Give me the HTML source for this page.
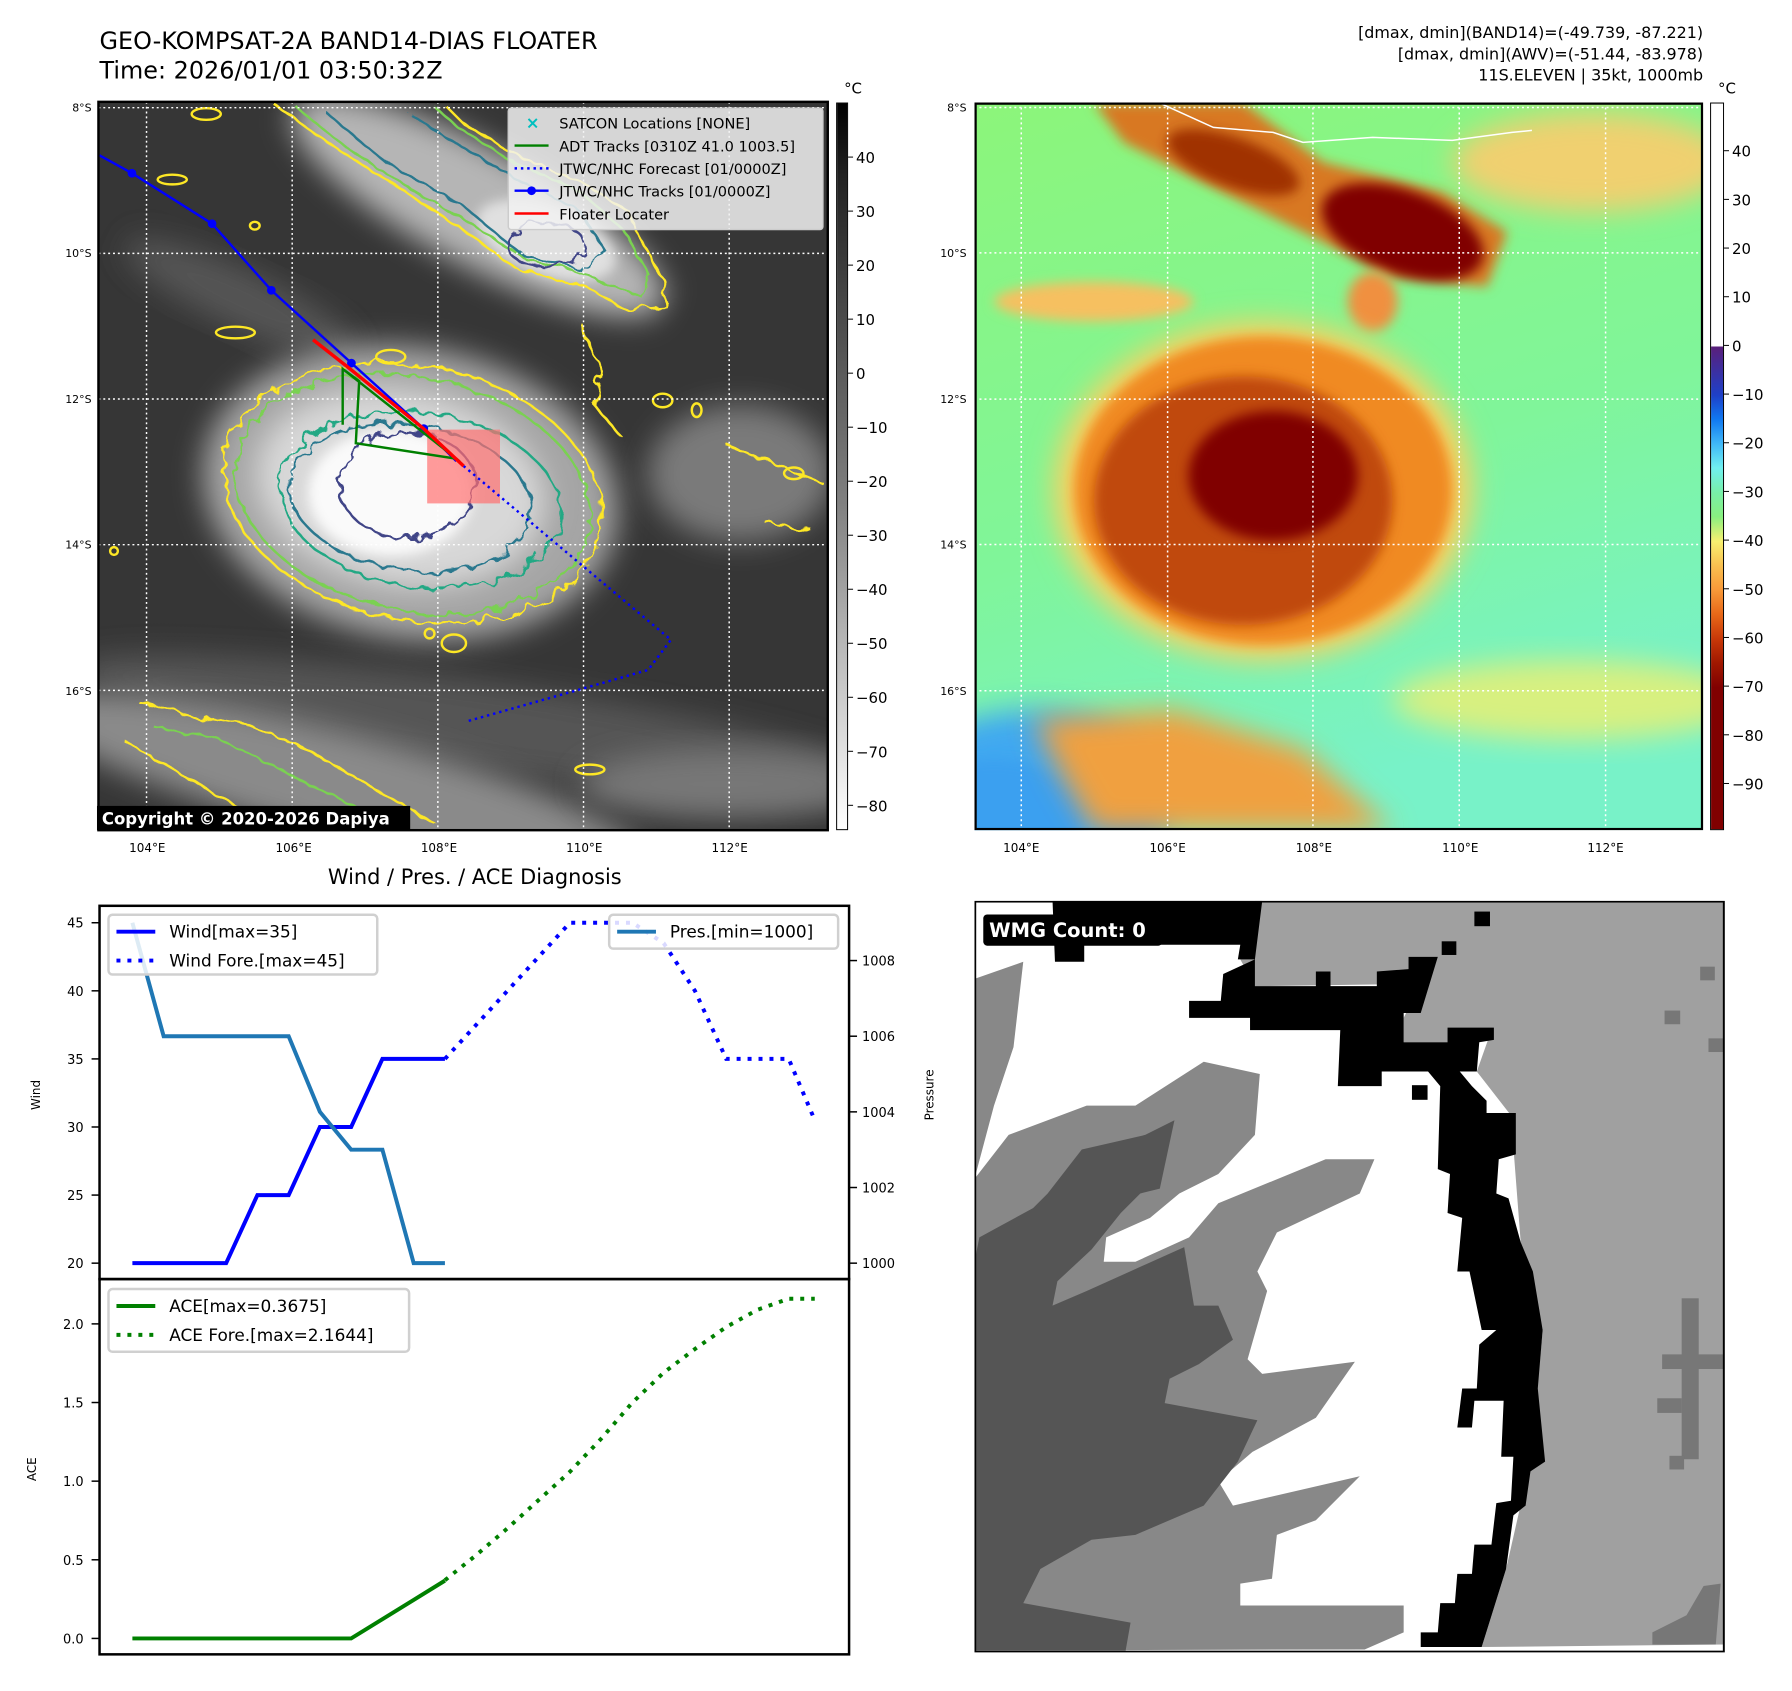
<!DOCTYPE html>
<html><head><meta charset="utf-8"><style>
html,body{margin:0;padding:0;background:#fff;}
body{width:1792px;height:1691px;position:relative;overflow:hidden;font-family:"DejaVu Sans","Liberation Sans",sans-serif;color:#000;}
.abs{position:absolute;}
.t{position:absolute;white-space:nowrap;}
#wrap{position:absolute;left:0;top:0;width:1792px;height:1691px;transform:scale(0.9954);transform-origin:0 0;}
</style></head><body>
<div id="wrap">
<div class="t" style="left:100px;top:26px;font-size:24px;line-height:30px;">GEO-KOMPSAT-2A BAND14-DIAS FLOATER<br>Time: 2026/01/01 03:50:32Z</div>
<div class="t" style="right:81px;top:22px;font-size:16px;line-height:21.5px;text-align:right;">[dmax, dmin](BAND14)=(-49.739, -87.221)<br>[dmax, dmin](AWV)=(-51.44, -83.978)<br>11S.ELEVEN | 35kt, 1000mb</div>

<svg class="abs" style="left:95px;top:95px" width="760" height="760" viewBox="0 0 1558 1558">
<defs>
<filter id="bl" x="-30%" y="-30%" width="160%" height="160%"><feGaussianBlur stdDeviation="30"/></filter>
<filter id="bl2" x="-30%" y="-30%" width="160%" height="160%"><feGaussianBlur stdDeviation="12"/></filter>
<filter id="wig" x="-10%" y="-10%" width="120%" height="120%"><feTurbulence type="fractalNoise" baseFrequency="0.035" numOctaves="2" seed="3"/><feDisplacementMap in="SourceGraphic" scale="30"/></filter>
<clipPath id="mc"><rect x="8" y="15" width="1502" height="1500"/></clipPath>
</defs>
<g clip-path="url(#mc)">
<rect x="8" y="15" width="1502" height="1500" fill="#363636"/>
<ellipse cx="800" cy="1300" rx="850" ry="90" fill="#555" filter="url(#bl)" transform="rotate(8 800 1300)"/>
<ellipse cx="500" cy="1420" rx="650" ry="110" fill="#8a8a8a" filter="url(#bl)" transform="rotate(14 500 1420)"/>
<ellipse cx="1300" cy="1420" rx="300" ry="70" fill="#777" filter="url(#bl)"/>
<ellipse cx="1330" cy="780" rx="190" ry="140" fill="#7a7a7a" filter="url(#bl)"/>
<ellipse cx="300" cy="420" rx="260" ry="60" fill="#555" filter="url(#bl)" transform="rotate(25 300 420)"/>
<ellipse cx="790" cy="230" rx="430" ry="120" fill="#b5b5b5" filter="url(#bl)" transform="rotate(28 790 230)"/>
<ellipse cx="930" cy="300" rx="150" ry="70" fill="#e0e0e0" filter="url(#bl2)" transform="rotate(20 930 300)"/>
<ellipse cx="650" cy="820" rx="430" ry="300" fill="#a5a5a5" filter="url(#bl)" transform="rotate(10 650 820)"/>
<ellipse cx="630" cy="810" rx="300" ry="200" fill="#d8d8d8" filter="url(#bl)" transform="rotate(10 630 810)"/>
<ellipse cx="610" cy="820" rx="170" ry="130" fill="#fafafa" filter="url(#bl2)"/>
<g fill="none" stroke-width="5" filter="url(#wig)">
<ellipse cx="655" cy="820" rx="395" ry="262" stroke="#fde725" transform="rotate(12 655 820)"/>
<ellipse cx="655" cy="822" rx="370" ry="240" stroke="#7ad151" transform="rotate(12 655 822)"/>
<ellipse cx="670" cy="835" rx="290" ry="180" stroke="#22a884" transform="rotate(8 670 835)"/>
<ellipse cx="650" cy="830" rx="250" ry="150" stroke="#2a788e" transform="rotate(8 650 830)"/>
<ellipse cx="645" cy="805" rx="140" ry="110" stroke="#414487"/>
<path d="M370 20 L480 100 L640 200 L760 280 L870 360 L1000 390 L1100 445 L1180 440 L1170 380 L1120 290 L1100 240 L1000 180 L860 120 L760 60 L720 20" stroke="#fde725"/>
<path d="M420 30 L520 110 L660 200 L780 270 L890 340 L1010 370 L1130 420 L1140 370 L1090 280 L1000 200 L860 140 L740 60 L700 25" stroke="#7ad151"/>
<path d="M480 40 L600 140 L760 230 L880 330 L1000 360 L1050 320 L1000 240 L880 180 L760 110 L650 40" stroke="#2a788e"/>
<ellipse cx="930" cy="310" rx="80" ry="45" stroke="#414487"/>
<path d="M90 1250 L200 1280 L320 1300 L420 1340 L560 1420 L700 1500 M60 1330 L180 1400 L300 1470" stroke="#fde725"/>
<path d="M120 1300 L260 1330 L400 1400 L560 1480" stroke="#7ad151"/>
<path d="M1000 470 L1040 560 L1030 640 L1080 700 M1300 720 L1400 760 L1500 800 M1380 880 L1480 900" stroke="#fde725"/>
</g>
<g fill="none" stroke="#fde725" stroke-width="5">
<ellipse cx="230" cy="40" rx="30" ry="12"/><ellipse cx="290" cy="490" rx="40" ry="12"/><ellipse cx="160" cy="175" rx="30" ry="10"/>
<ellipse cx="610" cy="540" rx="30" ry="14"/><ellipse cx="740" cy="1130" rx="25" ry="18"/><ellipse cx="1170" cy="630" rx="20" ry="14"/>
<ellipse cx="1240" cy="650" rx="10" ry="14"/><ellipse cx="1440" cy="780" rx="20" ry="12"/><ellipse cx="1020" cy="1390" rx="30" ry="10"/>
<ellipse cx="40" cy="940" rx="8" ry="8"/><ellipse cx="690" cy="1110" rx="10" ry="10"/><ellipse cx="330" cy="270" rx="10" ry="8"/>
</g>
<g stroke="#fff" stroke-width="3" stroke-dasharray="4 6" fill="none">
<line x1="107" y1="15" x2="107" y2="1515"/><line x1="407" y1="15" x2="407" y2="1515"/><line x1="707" y1="15" x2="707" y2="1515"/><line x1="1007" y1="15" x2="1007" y2="1515"/><line x1="1307" y1="15" x2="1307" y2="1515"/>
<line x1="8" y1="27" x2="1510" y2="27"/><line x1="8" y1="327" x2="1510" y2="327"/><line x1="8" y1="627" x2="1510" y2="627"/><line x1="8" y1="927" x2="1510" y2="927"/><line x1="8" y1="1227" x2="1510" y2="1227"/>
</g>
<rect x="685" y="690" width="150" height="152" fill="#ff7070" fill-opacity="0.7"/>
<polyline points="760,765 1187,1123 1140,1185 1000,1225 770,1290" fill="none" stroke="#0000ff" stroke-width="5" stroke-dasharray="5 8"/>
<polyline points="10,125 77,162 242,266 364,403 529,553 678,688 745,755" fill="none" stroke="#0000ff" stroke-width="5"/>
<g fill="#0000ff"><circle cx="77" cy="162" r="9"/><circle cx="242" cy="266" r="9"/><circle cx="364" cy="403" r="9"/><circle cx="529" cy="553" r="9"/><circle cx="678" cy="688" r="9"/></g>
<polyline points="511,680 511,565 545,590 538,718 745,750 511,565" fill="none" stroke="#008000" stroke-width="5"/>
<polyline points="450,505 520,560 600,625 680,690 760,765" fill="none" stroke="#ff0000" stroke-width="7"/>
</g>
<rect x="8" y="15" width="1502" height="1500" fill="none" stroke="#000" stroke-width="5"/>
<g>
<rect x="852" y="28" width="648" height="250" rx="6" fill="#f2f2f2" fill-opacity="0.85" stroke="#ccc" stroke-width="3"/>
<g font-size="30" font-family="DejaVu Sans, sans-serif">
<text x="888" y="70" fill="#00bfbf" font-size="34" font-weight="bold">×</text><text x="957" y="70">SATCON Locations [NONE]</text>
<line x1="865" y1="105" x2="935" y2="105" stroke="#008000" stroke-width="5"/><text x="957" y="117">ADT Tracks [0310Z 41.0 1003.5]</text>
<line x1="865" y1="152" x2="935" y2="152" stroke="#0000ff" stroke-width="5" stroke-dasharray="5 8"/><text x="957" y="164">JTWC/NHC Forecast [01/0000Z]</text>
<line x1="865" y1="198" x2="935" y2="198" stroke="#0000ff" stroke-width="5"/><circle cx="900" cy="198" r="9" fill="#0000ff"/><text x="957" y="210">JTWC/NHC Tracks [01/0000Z]</text>
<line x1="865" y1="245" x2="935" y2="245" stroke="#ff0000" stroke-width="5"/><text x="957" y="257">Floater Locater</text>
</g></g>
<g><rect x="5" y="1465" width="645" height="50" fill="#000"/>
<text x="15" y="1503" fill="#fff" font-size="34" font-weight="bold" font-family="DejaVu Sans, sans-serif">Copyright © 2020-2026 Dapiya</text></g>
</svg>

<div class="abs" style="left:840px;top:103px;width:12px;height:731px;border:1px solid #000;box-sizing:border-box;background:linear-gradient(#000,#222 10%,#808080 55%,#fff)"></div>
<svg class="abs" style="left:979px;top:103px" width="732" height="731" viewBox="0 0 732 731">
<defs>
<filter id="b1" x="-30%" y="-30%" width="160%" height="160%"><feGaussianBlur stdDeviation="14"/></filter>
<filter id="b2" x="-30%" y="-30%" width="160%" height="160%"><feGaussianBlur stdDeviation="6"/></filter>
<linearGradient id="bg" x1="0" y1="0" x2="0.3" y2="1"><stop offset="0" stop-color="#8cf57a"/><stop offset="0.6" stop-color="#80f59a"/><stop offset="1" stop-color="#78f2c8"/></linearGradient>
<clipPath id="rc"><rect width="732" height="731"/></clipPath>
</defs>
<g clip-path="url(#rc)">
<rect width="732" height="731" fill="url(#bg)"/>
<ellipse cx="620" cy="60" rx="140" ry="50" fill="#f0d070" filter="url(#b1)"/>
<ellipse cx="120" cy="200" rx="100" ry="20" fill="#f6c060" filter="url(#b2)"/>
<ellipse cx="600" cy="600" rx="180" ry="40" fill="#d8f080" filter="url(#b1)"/>
<ellipse cx="60" cy="700" rx="140" ry="90" fill="#40a8f0" filter="url(#b1)"/>
<ellipse cx="20" cy="720" rx="90" ry="60" fill="#3aa0f0" filter="url(#b2)"/>
<path d="M60 620 L200 610 L330 650 L420 731 L120 731 L90 680 Z" fill="#f0a040" filter="url(#b1)"/>
<path d="M120 0 L270 0 L350 60 L470 90 L535 130 L515 185 L420 175 L330 130 L230 80 L150 40 Z" fill="#d87820" filter="url(#b2)"/>
<ellipse cx="430" cy="130" rx="85" ry="42" fill="#800000" filter="url(#b2)" transform="rotate(20 430 130)"/>
<ellipse cx="260" cy="60" rx="70" ry="25" fill="#a03000" filter="url(#b2)" transform="rotate(20 260 60)"/>
<ellipse cx="400" cy="200" rx="25" ry="30" fill="#f09040" filter="url(#b2)"/>
<ellipse cx="290" cy="390" rx="210" ry="170" fill="#fbd060" filter="url(#b1)"/>
<ellipse cx="290" cy="390" rx="190" ry="155" fill="#f08a20" filter="url(#b2)"/>
<ellipse cx="270" cy="400" rx="150" ry="125" fill="#c04808" filter="url(#b2)"/>
<ellipse cx="300" cy="375" rx="85" ry="65" fill="#800000" filter="url(#b2)"/>
<g stroke="#fff" stroke-width="1.5" stroke-dasharray="2 3" fill="none">
<line x1="47" y1="0" x2="47" y2="731"/><line x1="194" y1="0" x2="194" y2="731"/><line x1="340" y1="0" x2="340" y2="731"/><line x1="487" y1="0" x2="487" y2="731"/><line x1="634" y1="0" x2="634" y2="731"/>
<line x1="0" y1="5" x2="732" y2="5"/><line x1="0" y1="151" x2="732" y2="151"/><line x1="0" y1="298" x2="732" y2="298"/><line x1="0" y1="444" x2="732" y2="444"/><line x1="0" y1="591" x2="732" y2="591"/>
</g>
<polyline points="185,0 240,25 300,30 330,40 400,35 480,38 540,30 560,28" fill="none" stroke="#fff" stroke-width="1.5"/>
</g>
<rect x="1" y="1" width="730" height="729" fill="none" stroke="#000" stroke-width="2.5"/>
</svg>
<div class="abs" style="left:1718px;top:103px;width:14px;height:731px;border:1px solid #000;box-sizing:border-box;background:linear-gradient(#fff 0px,#fff 244px,#5a1f7a 244px,#1e40c8 293px,#1078f0 317px,#40b8f8 342px,#70f0f0 366px,#78f0a8 391px,#88f080 415px,#f8f070 440px,#f8c050 464px,#f89838 489px,#e86818 513px,#c83808 538px,#a01800 562px,#800000 587px,#800000 100%)"></div>

<svg class="abs" style="left:979px;top:905px" width="755" height="755" viewBox="0 0 1541 1541">
<rect x="0" y="0" width="1537" height="1540" fill="#fff"/>
<polygon fill="#a0a0a0" points="575,0 1537,0 1537,1525 1040,1530 1090,1370 1140,1150 1165,880 1120,700 1100,440 1030,350 1060,265 970,290 880,290 880,240 915,170 575,175 545,120 580,30"/>
<polygon fill="#888" points="0,160 100,125 80,300 40,420 0,570"/>
<polygon fill="#888" points="0,570 70,480 230,420 330,420 470,330 585,355 575,480 500,560 420,600 360,650 270,690 265,740 330,740 440,690 500,620 720,530 820,530 790,600 620,680 580,760 600,800 560,940 590,970 780,945 700,1060 570,1130 500,1190 530,1240 790,1180 700,1270 620,1300 610,1390 545,1400 545,1445 670,1445 880,1445 880,1500 800,1535 0,1537"/>
<polygon fill="#555" points="0,740 10,690 120,630 150,600 220,510 350,480 410,450 380,590 340,600 300,640 240,715 170,780 160,830 230,800 430,710 450,830 500,830 530,900 460,950 400,980 390,1030 580,1065 540,1150 470,1240 330,1300 240,1310 135,1370 100,1440 320,1480 310,1537 0,1537"/>
<polygon fill="#000" points="160,0 590,0 575,120 510,150 505,205 440,205 440,240 565,240 565,265 750,265 745,380 835,380 835,350 930,350 955,380 950,550 975,560 970,640 1000,650 990,760 1015,760 1040,880 1070,880 1035,910 1030,1000 1000,1000 990,1080 1020,1080 1025,1025 1085,1025 1080,1140 1105,1140 1100,1230 1070,1235 1060,1320 1025,1320 1020,1380 990,1380 985,1440 955,1440 950,1500 915,1500 915,1530 1040,1530 1090,1370 1105,1260 1130,1240 1140,1170 1170,1150 1155,1000 1165,880 1145,760 1120,700 1095,610 1070,600 1075,530 1110,520 1110,435 1050,435 1050,410 1020,380 995,350 1030,350 1035,290 1065,285 1065,260 970,260 970,290 880,290 880,230 915,230 950,115 890,115 890,140 825,145 825,175 730,175 730,145 700,145 700,175 575,175 575,120 540,120 545,90 225,90 225,125 165,125"/>
<g fill="#000"><rect x="1025" y="22" width="32" height="30"/><rect x="958" y="83" width="30" height="28"/><rect x="897" y="378" width="32" height="30"/></g>
<g fill="#777"><rect x="1488" y="135" width="30" height="28"/><rect x="1415" y="225" width="32" height="28"/><rect x="1505" y="282" width="32" height="28"/><rect x="1410" y="930" width="125" height="30"/><rect x="1450" y="815" width="35" height="330"/><rect x="1400" y="1020" width="50" height="30"/><rect x="1425" y="1138" width="30" height="28"/><polygon points="1390,1500 1460,1465 1495,1405 1530,1400 1520,1525 1390,1525"/></g>
<rect x="1.5" y="1.5" width="1535" height="1538" fill="none" stroke="#000" stroke-width="4"/>
<g><rect x="18" y="28" width="367" height="64" rx="8" fill="#000"/>
<text x="30" y="74" fill="#fff" font-size="40" font-weight="bold" font-family="DejaVu Sans, sans-serif">WMG Count: 0</text></g>
</svg>

<svg id="chart" class="abs" style="left:0;top:0" width="1792" height="1691"></svg>
</div>

<script>
var windT=[0,6,12,18,24,30,36,42,48,54,60];
var windV=[20,20,20,20,25,25,30,30,35,35,35];
var windFT=[60,84,96,102,108,114,126,131];
var windFV=[35,45,45,43.5,40,35,35,30.5];
var presT=[0,6,12,18,24,30,36,42,48,54,60];
var presV=[1009,1006,1006,1006,1006,1006,1004,1003,1003,1000,1000];
var aceT=[0,6,12,18,24,30,36,42,48,54,60];
var aceV=[0,0,0,0,0,0,0,0,0.1225,0.245,0.3675];
var aceFT=[60,66,72,78,84,90,96,102,108,114,120,126,131];
var aceFV=[0.37,0.53,0.70,0.88,1.06,1.27,1.50,1.69,1.84,1.98,2.09,2.16,2.16];
var windTicks=[20,25,30,35,40,45];
var presTicks=[1000,1002,1004,1006,1008];
var aceTicks=[0,0.5,1,1.5,2];
var aceTickLabels=["0.0","0.5","1.0","1.5","2.0"];
var irCbTicks=[40,30,20,10,0,-10,-20,-30,-40,-50,-60,-70,-80];
var awvCbTicks=[40,30,20,10,0,-10,-20,-30,-40,-50,-60,-70,-80,-90];
var lonTicks=["104°E","106°E","108°E","110°E","112°E"];
var latTicks=["8°S","10°S","12°S","14°S","16°S"];

function xT(t){return 133+t*5.233;}
function yW(v){return 1269-(v-20)*13.68;}
function yP(p){return 1269-(p-1000)*38;}
function yA(a){return 1646-a*158;}
var NS='http://www.w3.org/2000/svg';
var svg=document.getElementById('chart');
function mk(tag,attrs,parent){var e=document.createElementNS(NS,tag);for(var k in attrs)e.setAttribute(k,attrs[k]);(parent||svg).appendChild(e);return e;}
function txt(x,y,s,size,anchor,parent){var e=mk('text',{x:x,y:y,'font-size':size,'text-anchor':anchor||'start','font-family':'DejaVu Sans, sans-serif'},parent);e.textContent=s;return e;}
function pts(T,V,fy){return T.map(function(t,i){return xT(t)+','+fy(V[i]);}).join(' ');}

var f1=mk('rect',{x:100,y:910,width:753,height:375,fill:'none',stroke:'#000','stroke-width':2.5});


var f2=mk('rect',{x:100,y:1285,width:753,height:377,fill:'none',stroke:'#000','stroke-width':2.5});


var ttl=txt(477,888,'Wind / Pres. / ACE Diagnosis',21,'middle');



windTicks.forEach(function(v){
  mk('line',{x1:92,x2:100,y1:yW(v),y2:yW(v),stroke:'#000','stroke-width':1.5});
  var e=txt(84,yW(v)+5,String(v),13,'end');
  
  
});
presTicks.forEach(function(p){
  mk('line',{x1:853,x2:861,y1:yP(p),y2:yP(p),stroke:'#000','stroke-width':1.5});
  var e=txt(866,yP(p)+5,String(p),13,'start');
  
  
});
aceTicks.forEach(function(a,i){
  mk('line',{x1:92,x2:100,y1:yA(a),y2:yA(a),stroke:'#000','stroke-width':1.5});
  var e=txt(84,yA(a)+5,aceTickLabels[i],13,'end');
  
  
});
var yl1=txt(0,0,'Wind',12,'middle');yl1.setAttribute('transform','translate(40 1100) rotate(-90)');


var yl2=txt(0,0,'Pressure',12,'middle');yl2.setAttribute('transform','translate(938 1100) rotate(-90)');


var yl3=txt(0,0,'ACE',12,'middle');yl3.setAttribute('transform','translate(36 1476) rotate(-90)');



var l;
l=mk('polyline',{points:pts(windFT,windFV,yW),fill:'none',stroke:'#0000ff','stroke-width':4,'stroke-dasharray':'4 7'});


l=mk('polyline',{points:pts(windT,windV,yW),fill:'none',stroke:'#0000ff','stroke-width':4});


l=mk('polyline',{points:pts(presT,presV,yP),fill:'none',stroke:'#1f77b4','stroke-width':4});


l=mk('polyline',{points:pts(aceFT,aceFV,yA),fill:'none',stroke:'#008000','stroke-width':4,'stroke-dasharray':'4 7'});


l=mk('polyline',{points:pts(aceT,aceV,yA),fill:'none',stroke:'#008000','stroke-width':4});



function legend(x,y,w,h,items,name){
  var g=mk('g',{});
  
  
  mk('rect',{x:x,y:y,width:w,height:h,rx:4,fill:'#fff','fill-opacity':0.85,stroke:'#d0d0d0','stroke-width':2.5},g);
  items.forEach(function(it,i){
    var cy=y+17+i*29;
    var a={x1:x+8,x2:x+47,y1:cy,y2:cy,stroke:it[1],'stroke-width':4};
    if(it[2])a['stroke-dasharray']='4 7';
    mk('line',a,g);
    txt(x+61,cy+6,it[0],17,'start',g);
  });
}
legend(109,919,270,60,[['Wind[max=35]','#0000ff',0],['Wind Fore.[max=45]','#0000ff',1]],'wind-legend');
legend(612,919,230,34,[['Pres.[min=1000]','#1f77b4',0]],'pressure-legend');
legend(109,1295,302,63,[['ACE[max=0.3675]','#008000',0],['ACE Fore.[max=2.1644]','#008000',1]],'ace-legend');

function irY(v){return 103+(50.1-v)*(731/134.7);}
function awvY(v){return 347-v*4.89;}
irCbTicks.forEach(function(v){
  mk('line',{x1:852,x2:857,y1:irY(v),y2:irY(v),stroke:'#000','stroke-width':1});
  var e=txt(860,irY(v)+6,String(v).replace('-','−'),15,'start');
  
  
});
awvCbTicks.forEach(function(v){
  mk('line',{x1:1732,x2:1737,y1:awvY(v),y2:awvY(v),stroke:'#000','stroke-width':1});
  var e=txt(1740,awvY(v)+6,String(v).replace('-','−'),15,'start');
  
  
});
var c1=txt(848,94,'°C',15,'start');
var c2=txt(1726,94,'°C',15,'start');
var lonLeft=[148,295,441,587,733],lonRight=[1026,1173,1320,1467,1613],latY=[108,254,401,547,694];
lonTicks.forEach(function(s,i){
  var e=txt(lonLeft[i],856,s,12,'middle');
  
  
  var f=txt(lonRight[i],856,s,12,'middle');
  
  
});
latTicks.forEach(function(s,i){
  var e=txt(92,latY[i]+4,s,11,'end');
  
  
  var f=txt(971,latY[i]+4,s,11,'end');
  
  
});
</script>
</body></html>
